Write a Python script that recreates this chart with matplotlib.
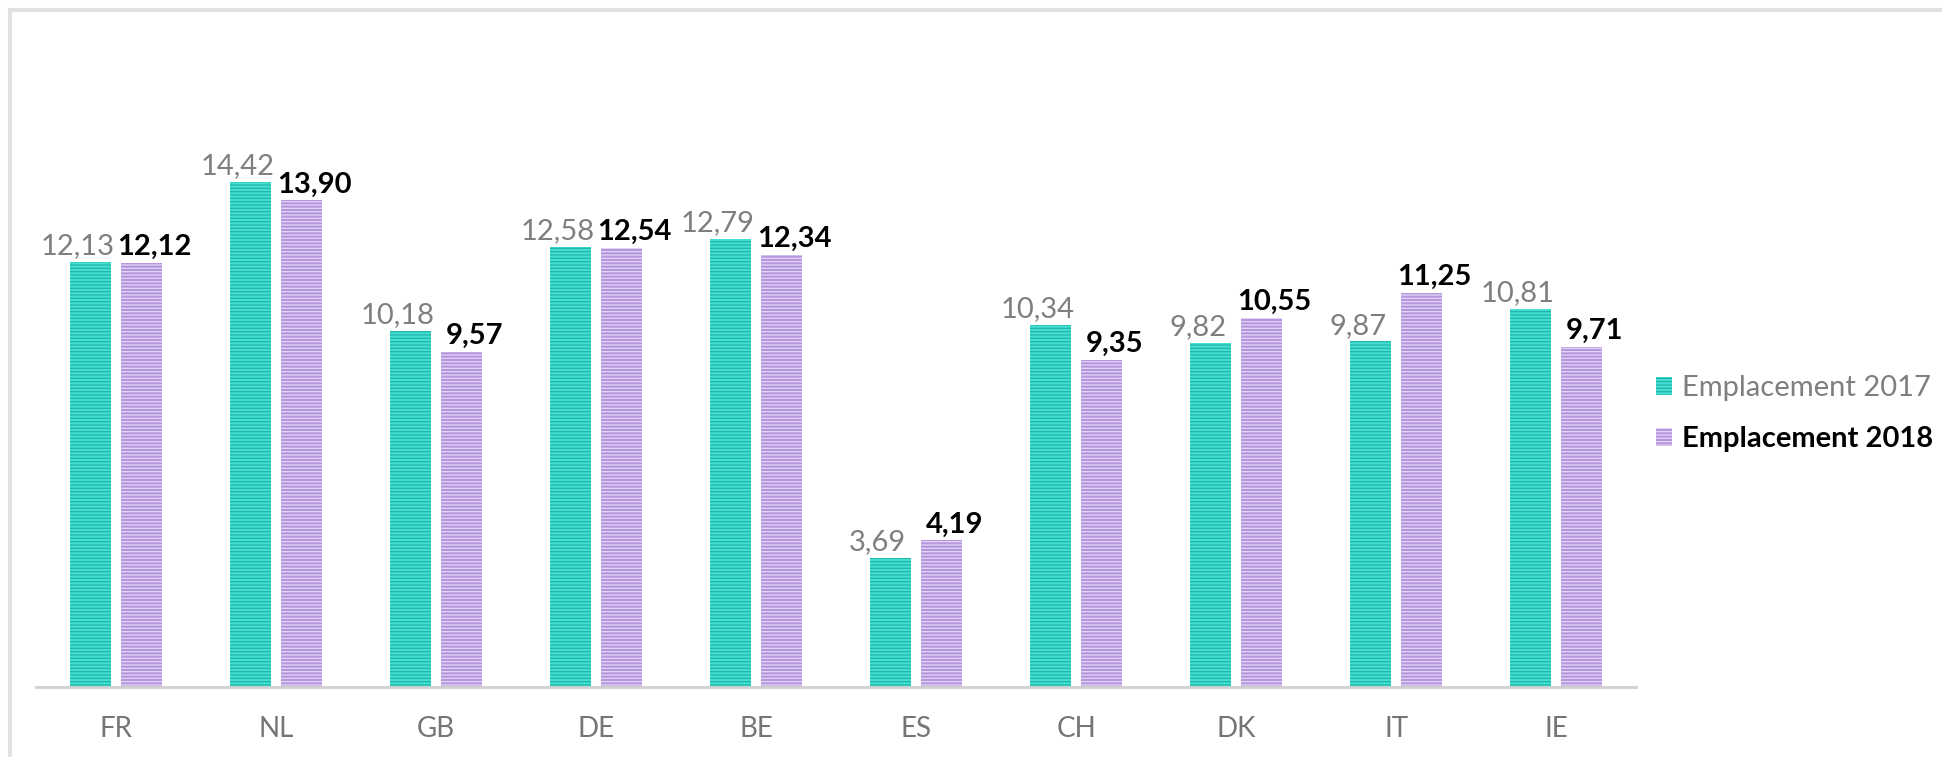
import matplotlib.pyplot as plt
import matplotlib.patches as mpatches
import numpy as np

plt.rcParams['font.family'] = ['Lato', 'DejaVu Sans']
plt.rcParams['hatch.linewidth'] = 0.9

# data
pays = ['FR', 'NL', 'GB', 'DE', 'BE', 'ES', 'CH', 'DK', 'IT', 'IE']
empl_2017 = [12.13, 14.42, 10.18, 12.58, 12.79, 3.69, 10.34, 9.82, 9.87, 10.81]
empl_2018 = [12.12, 13.90, 9.57, 12.54, 12.34, 4.19, 9.35, 10.55, 11.25, 9.71]
series_names = ['Emplacement 2017', 'Emplacement 2018']

fig = plt.figure(figsize=(19.42, 7.57), dpi=100)
ax = fig.add_axes([0.0185, 0.0925, 0.824, 0.74])

x = np.arange(len(pays))
w = 0.256
off = 0.158

# barres rayées horizontalement (hachures)
b1 = ax.bar(x - off, empl_2017, w, color='#44DFD3', edgecolor='#20B3A7',
            hatch='-----', linewidth=0, label=series_names[0])
b2 = ax.bar(x + off, empl_2018, w, color='#B596DF', edgecolor='#E2D6F5',
            hatch='-----', linewidth=0, label=series_names[1])

def fmt(v):
    return f'{v:.2f}'.replace('.', ',')

# étiquettes de valeurs
for xi, v in zip(x, empl_2017):
    ax.annotate(fmt(v), (xi - off, v), xytext=(-9.5, 2), textcoords='offset points',
                ha='center', va='bottom', fontsize=21, color='#7F7F7F')
for xi, v in zip(x, empl_2018):
    ax.annotate(fmt(v), (xi + off, v), xytext=(9.5, 2), textcoords='offset points',
                ha='center', va='bottom', fontsize=21, color='black', fontweight='bold')

ax.set_xlim(-0.5, len(pays) - 0.5)
ax.set_ylim(0, 16)
ax.set_xticks(x)
ax.set_xticklabels(pays, fontsize=20, color='#757575')
ax.tick_params(axis='x', length=0, pad=21)
ax.set_yticks([])
for s in ['top', 'right', 'left']:
    ax.spines[s].set_visible(False)
ax.spines['bottom'].set_color('#D0D0D0')
ax.spines['bottom'].set_linewidth(2)

leg = ax.legend(loc='center left', bbox_to_anchor=(0.996, 0.4875), frameon=False,
                fontsize=21, handlelength=0.55, handleheight=0.55, handletextpad=0.35,
                labelspacing=0.85)
leg.get_texts()[0].set_color('#7F7F7F')
leg.get_texts()[1].set_color('black')
leg.get_texts()[1].set_fontweight('bold')

# cadre gris clair autour du graphique
fig.patches.append(mpatches.Rectangle((0.005, -0.05), 1.2, 1.037, transform=fig.transFigure,
                                      fill=False, edgecolor='#E0E0E0', linewidth=3))

fig.savefig('out.png', dpi=100)
